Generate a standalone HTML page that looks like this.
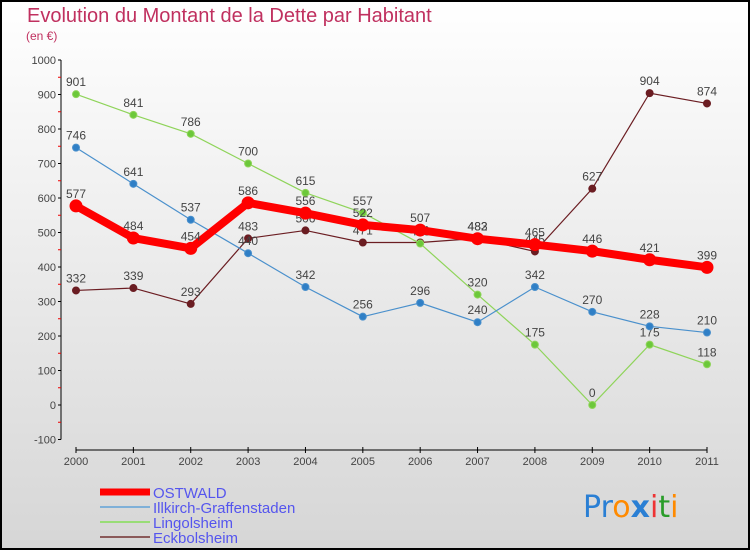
<!DOCTYPE html>
<html><head><meta charset="utf-8"><style>
body{margin:0}
#c{width:750px;height:550px;position:relative;font-family:"Liberation Sans",sans-serif}
</style></head><body>
<div id="c">
<svg id="s" width="750" height="550" xmlns="http://www.w3.org/2000/svg">
<defs><linearGradient id="bg" x1="0" y1="0" x2="0" y2="1"><stop offset="0" stop-color="#ffffff"/><stop offset="1" stop-color="#d6d6d6"/></linearGradient></defs>
<rect x="1" y="1" width="748" height="548" fill="url(#bg)" stroke="#000" stroke-width="2"/>
<text x="27" y="22" font-size="20" fill="#c0305f">Evolution du Montant de la Dette par Habitant</text>
<text x="26" y="40" font-size="12" fill="#c0305f">(en €)</text>
<g id="axes"></g><g id="series"></g><g id="legend"></g>
<text x="583" y="517" font-size="30" font-family="'DejaVu Sans',sans-serif"><tspan fill="#2a7fd4">Pr</tspan><tspan fill="#ff8a00">o</tspan><tspan fill="#2a7fd4" font-weight="bold">x</tspan><tspan fill="#e33">i</tspan><tspan fill="#2a9d2a">t</tspan><tspan fill="#ff8a00">i</tspan></text>
</svg></div>
<script>
const years=[2000,2001,2002,2003,2004,2005,2006,2007,2008,2009,2010,2011];
const yTicks=[-100,0,100,200,300,400,500,600,700,800,900,1000];
const ostwald=[577,484,454,586,556,522,507,482,465,446,421,399];
const illkirch=[746,641,537,440,342,256,296,240,342,270,228,210];
const lingolsheim=[901,841,786,700,615,557,468,320,175,0,175,118];
const eckbolsheim=[332,339,293,483,506,471,471,483,445,627,904,874];
const NS="http://www.w3.org/2000/svg";
const X=i=>76+i*(707-76)/11;
const Y=v=>405-v*0.345;
function mk(t,a,p){const e=document.createElementNS(NS,t);for(const k in a)e.setAttribute(k,a[k]);p.appendChild(e);return e;}
const ax=document.getElementById('axes');
let l=mk('line',{x1:61,y1:Y(1000),x2:61,y2:Y(-100),stroke:'#000'},ax);


yTicks.forEach(v=>{
 mk('line',{x1:58,y1:Y(v),x2:61,y2:Y(v),stroke:'#000'},ax);
 if(v<1000){const m=mk('line',{x1:58,y1:Y(v+50),x2:61,y2:Y(v+50),stroke:'#e00'},ax);}
 const t=mk('text',{x:56,y:Y(v)+4,'text-anchor':'end','font-size':11,fill:'#444'},ax);
 t.textContent=v;
 
 
});
l=mk('line',{x1:X(0),y1:450,x2:X(11),y2:450,stroke:'#000'},ax);


years.forEach((y,i)=>{
 mk('line',{x1:X(i),y1:447,x2:X(i),y2:453,stroke:'#000'},ax);
 const t=mk('text',{x:X(i),y:465,'text-anchor':'middle','font-size':11,fill:'#444'},ax);
 t.textContent=y;
 
 
});
const sg=document.getElementById('series');
function draw(name,data,color,w,r,dot){
 const g=mk('g',{},sg);
 
 
 const p=mk('polyline',{points:data.map((v,i)=>X(i)+','+Y(v)).join(' '),fill:'none',stroke:color,'stroke-width':w},g);
 
 
 data.forEach((v,i)=>{
  const c=mk('circle',{cx:X(i),cy:Y(v),r:r,fill:dot,stroke:color,'stroke-width':1},g);
  
  
  const t=mk('text',{x:X(i),y:Y(v)-8,'text-anchor':'middle','font-size':12,fill:'#444'},g);
  t.textContent=v;
  
  
 });
}
draw('eckbolsheim',eckbolsheim,'#6b1d22',1.2,3.5,'#6b1d22');
draw('lingolsheim',lingolsheim,'#8fd45a',1.2,3.5,'#6cc83a');
draw('illkirch',illkirch,'#4a90cc',1.2,3.5,'#2f7fc6');
draw('ostwald',ostwald,'#ff0000',8,6,'#ff0000');
const lg=document.getElementById('legend');
const items=[['OSTWALD','#ff0000',7],['Illkirch-Graffenstaden','#7fb0d8',2],['Lingolsheim','#99dd77',2],['Eckbolsheim','#8b5a5a',2]];
items.forEach((it,i)=>{
 const y=492+i*15;
 const g=mk('g',{},lg);
 
 
 mk('line',{x1:100,y1:y,x2:150,y2:y,stroke:it[1],'stroke-width':it[2]},g);
 const t=mk('text',{x:153,y:y+6,'font-size':15,fill:'#5555ee'},g);
 t.textContent=it[0];
});
</script>
</body></html>
